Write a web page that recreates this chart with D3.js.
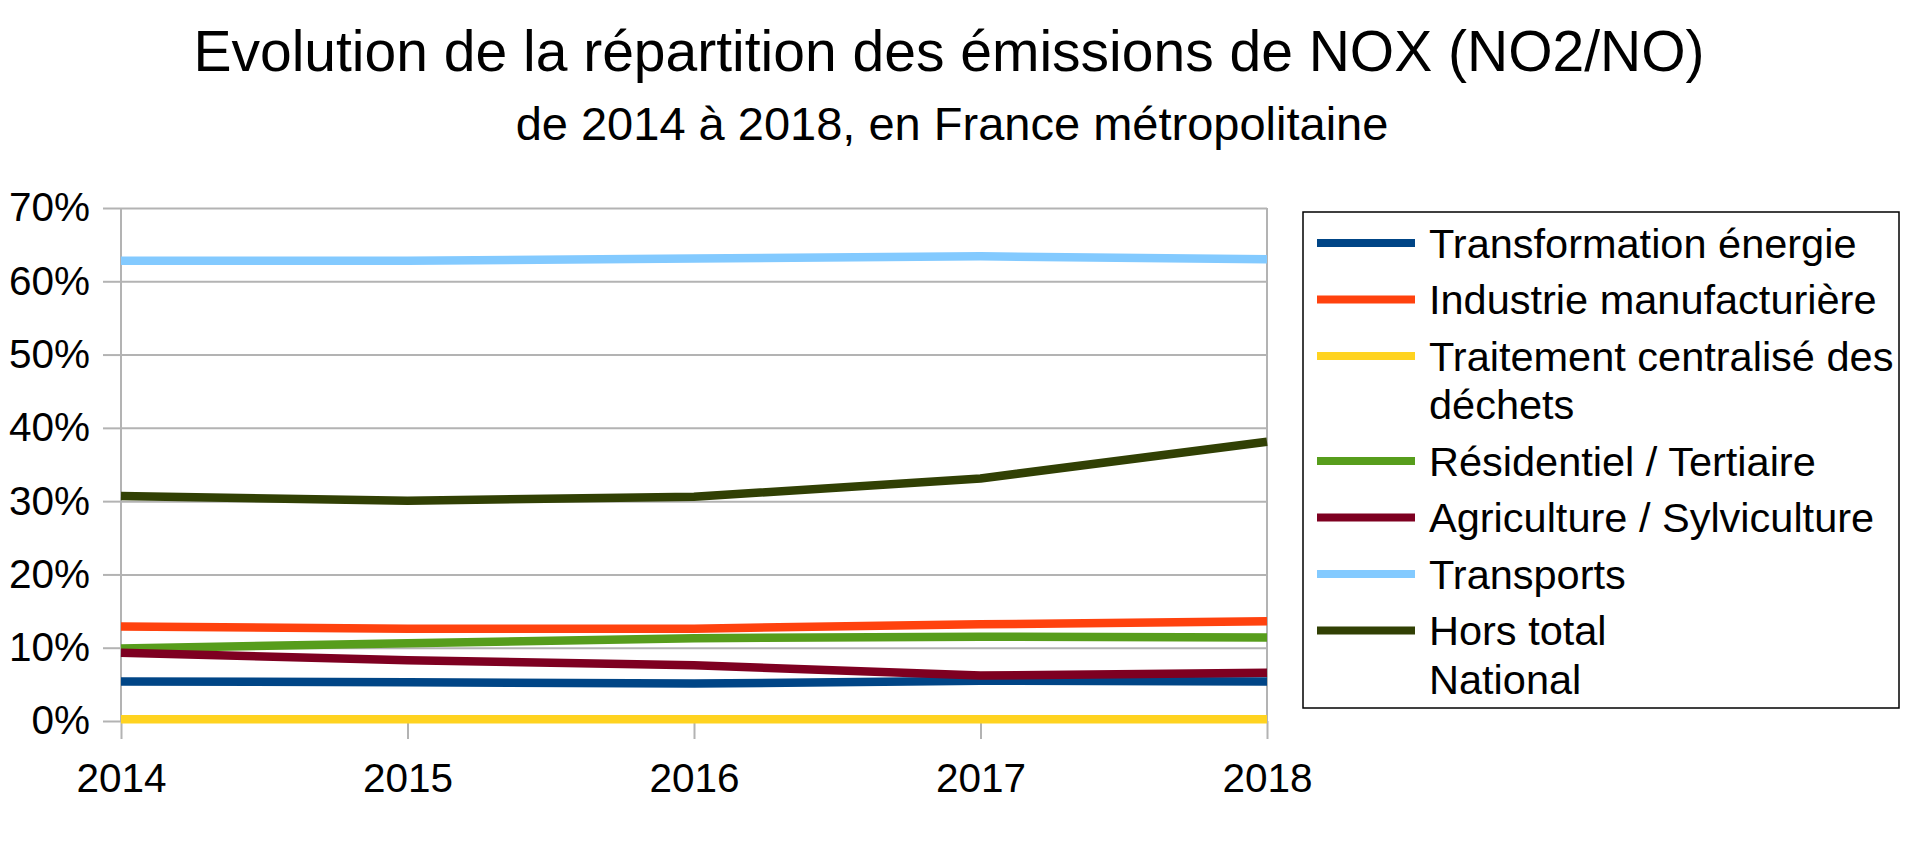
<!DOCTYPE html>
<html>
<head>
<meta charset="utf-8">
<script src="https://cdn.jsdelivr.net/npm/d3@7"></script>
<style>
  html, body { margin: 0; padding: 0; background: #fff; }
  svg { display: block; font-family: "Liberation Sans", Arial, sans-serif; }
</style>
</head>
<body>
<svg id="chart" width="1920" height="841"></svg>
<script>
const years = ["2014", "2015", "2016", "2017", "2018"];
const seriesNames = [
  ["Transformation énergie"],
  ["Industrie manufacturière"],
  ["Traitement centralisé des", "déchets"],
  ["Résidentiel / Tertiaire"],
  ["Agriculture / Sylviculture"],
  ["Transports"],
  ["Hors total", "National"]
];
const transformation = [5.4, 5.3, 5.1, 5.5, 5.4];
const industrie      = [12.9, 12.6, 12.6, 13.2, 13.6];
const traitement     = [0.25, 0.25, 0.25, 0.25, 0.25];
const residentiel    = [9.9, 10.6, 11.3, 11.5, 11.4];
const agriculture    = [9.3, 8.3, 7.6, 6.2, 6.6];
const transports     = [62.8, 62.8, 63.1, 63.4, 63.0];
const horsTotal      = [30.7, 30.05, 30.6, 33.1, 38.1];
const seriesColors = ["#004586", "#ff420e", "#ffd320", "#579d1c", "#7e0021", "#83caff", "#314004"];
const yTicks = [0, 10, 20, 30, 40, 50, 60, 70];
const chartTitle = "Evolution de la répartition des émissions de NOX (NO2/NO)";
const chartSubtitle = "de 2014 à 2018, en France métropolitaine";

const seriesValues = [transformation, industrie, traitement, residentiel, agriculture, transports, horsTotal];

const svg = d3.select("#chart");
const pLeft = 121, pRight = 1267, pTop = 208, pBottom = 721;

const x = d3.scalePoint().domain(years).range([pLeft, pRight]);
const y = d3.scaleLinear().domain([0, 70]).range([pBottom, pTop]);

// Titles
svg.append("text").attr("x", 949).attr("y", 71).attr("text-anchor", "middle")
  .attr("font-size", 57).attr("fill", "#000").text(chartTitle);
svg.append("text").attr("x", 952).attr("y", 140).attr("text-anchor", "middle")
  .attr("font-size", 47).attr("fill", "#000").text(chartSubtitle);

// Gridlines
const grid = svg.append("g").attr("transform", `translate(${pLeft},0)`)
  .call(d3.axisLeft(y).tickValues(yTicks).tickSize(-(pRight - pLeft)).tickFormat(""));
grid.select(".domain").remove();
grid.selectAll("line").attr("stroke", "#b3b3b3").attr("stroke-width", 2);

// Y axis
const yAxis = svg.append("g").attr("transform", `translate(${pLeft},0)`)
  .call(d3.axisLeft(y).tickValues(yTicks).tickSize(18).tickPadding(13).tickFormat(d => d + "%"));
yAxis.select(".domain").remove();
yAxis.selectAll("line").attr("stroke", "#b3b3b3").attr("stroke-width", 2);
yAxis.selectAll("text").attr("font-size", 40.5).attr("fill", "#000")
  .attr("font-family", "Liberation Sans, Arial, sans-serif");

// X axis
const xAxis = svg.append("g").attr("transform", `translate(0,${pBottom})`)
  .call(d3.axisBottom(x).tickSize(18).tickPadding(24));
xAxis.select(".domain").remove();
xAxis.selectAll("line").attr("stroke", "#b3b3b3").attr("stroke-width", 2);
xAxis.selectAll("text").attr("font-size", 40.5).attr("fill", "#000")
  .attr("font-family", "Liberation Sans, Arial, sans-serif");

// Left axis line and right border
svg.append("line").attr("x1", pLeft).attr("x2", pLeft).attr("y1", pTop).attr("y2", pBottom)
  .attr("stroke", "#b3b3b3").attr("stroke-width", 2);
svg.append("line").attr("x1", pRight).attr("x2", pRight).attr("y1", pTop).attr("y2", pBottom)
  .attr("stroke", "#b3b3b3").attr("stroke-width", 2);

// Lines
const line = d3.line().x((d, i) => x(years[i])).y(d => y(d));
seriesValues.forEach((vals, k) => {
  svg.append("path").datum(vals).attr("d", line).attr("fill", "none")
    .attr("stroke", seriesColors[k]).attr("stroke-width", 8.5)
    .attr("stroke-linejoin", "round");
});

// Legend
const lg = svg.append("g");
lg.append("rect").attr("x", 1303).attr("y", 212).attr("width", 596).attr("height", 496)
  .attr("fill", "#fff").attr("stroke", "#000").attr("stroke-width", 1.5);
let ly = 243;
const rowGap = 56.5, lineGap = 48.5;
seriesNames.forEach((lines, k) => {
  lg.append("line").attr("x1", 1317).attr("x2", 1415).attr("y1", ly).attr("y2", ly)
    .attr("stroke", seriesColors[k]).attr("stroke-width", 8);
  const t = lg.append("text").attr("x", 1429).attr("y", ly)
    .attr("font-size", 41.5).attr("fill", "#000");
  lines.forEach((s, j) => {
    t.append("tspan").attr("x", 1429).attr("dy", j === 0 ? "0.35em" : lineGap).text(s);
  });
  ly += rowGap + (lines.length - 1) * lineGap;
});
</script>
</body>
</html>
